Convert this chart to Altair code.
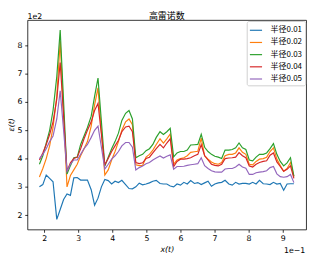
import altair as alt
import pandas as pd

x_vals = [1.86,1.96,2.06,2.16,2.26,2.37,2.47,2.57,2.67,2.77,2.87,2.97,3.07,3.17,3.27,3.38,3.48,3.58,3.68,3.78,
          3.88,3.98,4.08,4.18,4.28,4.39,4.49,4.59,4.69,4.79,4.89,4.99,5.09,5.19,5.29,5.40,5.50,5.60,5.70,5.80,
          5.90,6.00,6.10,6.20,6.30,6.41,6.51,6.61,6.71,6.81,6.91,7.01,7.11,7.21,7.31,7.42,7.52,7.62,7.72,7.82,
          7.92,8.02,8.12,8.22,8.32,8.43,8.53,8.63,8.73,8.83,8.93,9.03,9.13,9.23,9.33]

r001 = [3.0,3.08,3.42,3.3,3.18,1.85,2.2,2.55,2.75,2.7,3.32,3.33,3.24,3.24,3.24,2.9,2.35,2.6,3.0,3.26,
        3.22,3.1,3.2,3.15,3.23,3.08,2.94,2.93,3.0,3.13,3.07,3.1,3.14,3.2,3.23,3.12,3.1,3.1,3.03,3.0,
        3.1,3.06,3.16,3.1,3.22,3.12,3.15,3.08,3.14,3.2,3.02,3.1,3.14,3.16,3.23,3.1,3.06,3.16,3.1,3.12,
        3.12,3.1,3.16,3.1,3.23,3.11,3.1,3.08,3.16,3.1,3.12,2.88,3.1,3.11,3.11]

r002 = [3.35,3.65,4.0,4.45,5.1,6.2,8.15,5.6,3.0,3.4,3.6,3.8,4.1,4.35,4.6,5.15,5.9,6.5,4.95,3.42,
        3.6,3.95,4.25,4.6,5.0,5.3,5.4,5.2,3.78,3.75,3.76,4.05,4.15,4.3,4.5,4.7,4.55,4.7,4.87,3.8,
        3.95,4.0,4.03,4.1,4.22,4.24,4.26,4.72,4.1,3.98,3.88,3.82,3.8,3.86,4.1,4.15,4.15,4.2,4.38,4.22,
        4.15,3.8,3.78,3.9,3.98,4.0,4.05,4.25,4.38,3.98,3.75,3.55,3.65,3.86,3.37]

r003 = [3.8,4.1,4.55,5.0,5.7,6.9,8.55,6.0,3.45,3.75,4.03,4.05,4.5,4.8,5.1,5.5,6.2,6.85,5.3,3.74,
        4.05,4.35,4.6,4.9,5.35,5.6,5.7,5.4,4.03,4.1,4.15,4.28,4.35,4.5,4.75,4.95,4.85,4.95,5.07,4.06,
        4.2,4.25,4.25,4.3,4.48,4.49,4.5,4.86,4.4,4.25,4.15,4.08,4.05,4.0,4.3,4.3,4.32,4.38,4.55,4.38,
        4.32,3.95,3.92,4.05,4.15,4.15,4.2,4.35,4.53,4.15,3.9,3.74,3.85,4.03,3.37]

r004 = [3.95,4.2,4.5,4.85,5.3,6.1,7.4,5.5,3.55,3.85,4.0,4.05,4.35,4.7,5.0,5.3,5.7,5.95,4.85,3.78,
        4.0,4.25,4.45,4.65,4.95,5.12,5.15,4.95,3.86,3.82,3.85,4.0,4.05,4.2,4.35,4.5,4.38,4.55,4.7,3.72,
        3.9,3.98,3.98,4.0,4.03,4.1,4.15,4.49,4.1,3.95,3.8,3.76,3.74,3.8,4.0,4.02,4.03,4.05,4.21,4.1,
        4.03,3.74,3.7,3.8,3.86,3.9,3.92,4.12,4.2,3.88,3.72,3.55,3.62,3.74,3.3]

r005 = [4.0,4.15,4.35,4.6,4.8,5.4,6.4,5.0,3.55,3.8,3.95,3.95,4.15,4.35,4.5,4.75,5.0,5.15,4.4,3.63,
        3.8,3.98,4.1,4.25,4.45,4.57,4.57,4.4,3.6,3.68,3.74,3.82,3.86,3.95,4.02,4.09,4.02,4.08,4.13,3.62,
        3.72,3.72,3.73,3.76,3.78,3.8,3.82,4.03,3.75,3.65,3.57,3.53,3.52,3.52,3.63,3.65,3.65,3.7,3.8,3.7,
        3.66,3.44,3.44,3.5,3.52,3.54,3.57,3.68,3.72,3.46,3.36,3.34,3.36,3.44,3.15]

names = ["半径0.01", "半径0.02", "半径0.03", "半径0.04", "半径0.05"]
series = [r001, r002, r003, r004, r005]
colors = ["#1f77b4", "#ff7f0e", "#2ca02c", "#d62728", "#9467bd"]
x_ticks = [2, 3, 4, 5, 6, 7, 8, 9]
y_ticks = [2, 3, 4, 5, 6, 7, 8]
title_text = "高雷诺数"

rows = []
for n, s in zip(names, series):
    for xv, yv in zip(x_vals, s):
        rows.append({"x": xv, "y": yv, "series": n})
df = pd.DataFrame(rows)

lines = alt.Chart(df).mark_line(strokeWidth=1.2).encode(
    x=alt.X("x:Q", scale=alt.Scale(domain=[1.51, 9.69], nice=False, zero=False),
            axis=alt.Axis(values=x_ticks, title="x(t)", titleFont="DejaVu Sans",
                          titleFontStyle="italic", titleFontWeight="normal", titleFontSize=8,
                          titleY=23, titleBaseline="alphabetic", titleColor="black")),
    y=alt.Y("y:Q", scale=alt.Scale(domain=[1.49, 8.9], nice=False, zero=False),
            axis=alt.Axis(values=y_ticks, title="ε(t)", titleFont="DejaVu Sans",
                          titleFontStyle="italic", titleFontWeight="normal", titleFontSize=8,
                          titleX=-12, titleY=107, titleAngle=270, titleBaseline="bottom",
                          titleAlign="center", titleColor="black")),
    color=alt.Color("series:N", scale=alt.Scale(domain=names, range=colors),
                    legend=alt.Legend(orient="none", legendX=225, legendY=1, title=None,
                                      fillColor="white", strokeColor="#d0d0d0", cornerRadius=2,
                                      padding=2.5, symbolType="stroke", symbolSize=156,
                                      symbolStrokeWidth=1.2, labelFont="Noto Sans CJK SC",
                                      labelFontSize=8.2, labelColor="black", labelOffset=8,
                                      rowPadding=1.5, labelLimit=200)),
    order=alt.Order("x:Q"),
)

title_mark = alt.Chart(pd.DataFrame({"t": [title_text]})).mark_text(
    align="center", baseline="middle", font="Noto Sans CJK SC", fontSize=9.2, color="black"
).encode(text="t:N", x=alt.value(143), y=alt.value(-4.4))

top_off = alt.Chart(pd.DataFrame({"t": ["1e2"]})).mark_text(
    align="left", baseline="alphabetic", font="DejaVu Sans", fontSize=8, color="black"
).encode(text="t:N", x=alt.value(0), y=alt.value(-1))

bot_off = alt.Chart(pd.DataFrame({"t": ["1e−1"]})).mark_text(
    align="right", baseline="alphabetic", font="DejaVu Sans", fontSize=8, color="black"
).encode(text="t:N", x=alt.value(285), y=alt.value(239))

chart = alt.layer(lines, title_mark, top_off, bot_off).properties(
    width=286, height=215,
    padding={"left": 20, "top": 9, "right": 6, "bottom": 32},
    autosize=alt.AutoSizeParams(type="none"),
).configure_view(stroke="black", strokeWidth=0.8).configure_axis(
    grid=False, domain=False, ticks=True, tickSize=2.8, tickWidth=0.8, tickColor="black",
    labelFont="DejaVu Sans", labelFontSize=8, labelColor="black", labelPadding=2.8,
)

chart.save("out.html", embed_options={"renderer": "svg", "actions": False})
